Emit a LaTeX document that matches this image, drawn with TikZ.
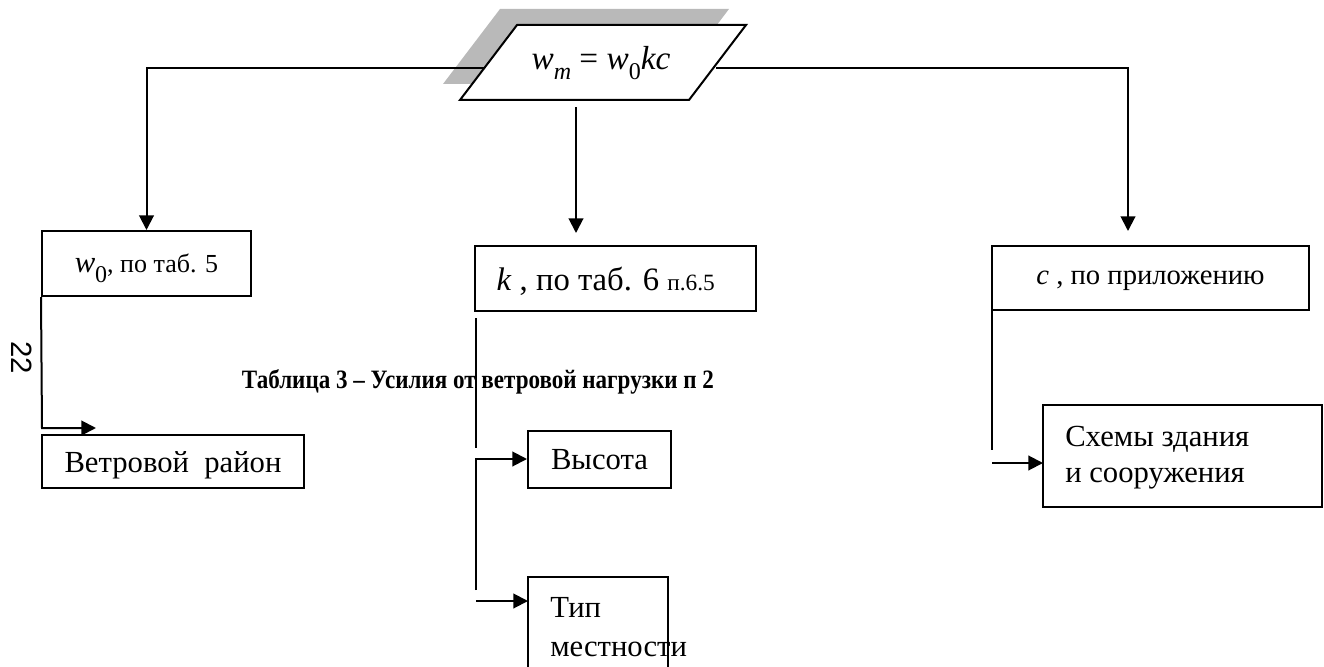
\documentclass[tikz,border=0pt]{standalone}
\usepackage{fontspec}
\setmainfont{Liberation Serif}
\newfontfamily\pagefont{Liberation Sans}
\usetikzlibrary{arrows.meta}
\tikzset{
  thick line/.style={line width=1.5pt},
  thin line/.style={line width=0.9pt},
  arr/.style={thick line,-{Triangle[length=11pt,width=11pt]}},
  boxnode/.style={draw,line width=1.5pt,inner sep=0pt,align=center,text depth=0pt,font=\fontsize{23}{27}\selectfont},
  boxleft/.style={inner sep=0pt,align=left,anchor=north west},
}
\begin{document}
\begin{tikzpicture}[x=0.75pt,y=-0.75pt]
\useasboundingbox (0,0) rectangle (1324,667);
% shadow and parallelogram
\fill[gray!55] (500,9) -- (729,9) -- (672,84) -- (443,84) -- cycle;
\draw[thick line,fill=white] (517,25) -- (746,25) -- (689,100) -- (460,100) -- cycle;
\node (eq) at (601,63) {\fontsize{25}{30}\selectfont\textit{w}\raisebox{-0.3em}{\fontsize{18}{20}\selectfont\textit{m}} = \textit{w}\raisebox{-0.3em}{\fontsize{18}{20}\selectfont 0}\textit{kc}};
\coordinate (pl) at (485,68);
\coordinate (pr) at (716,68);
\coordinate (pb) at (576,107);

% boxes
\node[boxnode,minimum width=209*0.75pt,minimum height=65*0.75pt] (w0) at (146.5,263.5)
  {\textit{w}\raisebox{-0.3em}{\fontsize{18}{20}\selectfont 0}\fontsize{19.5}{22}\selectfont, по таб. 5};
\node[boxnode,minimum width=281*0.75pt,minimum height=65*0.75pt,font=\fontsize{24.5}{28}\selectfont] (k) at (615.5,278.5)
  {\textit{k} , по таб. 6 {\fontsize{17.5}{20}\selectfont п.6.5}\hspace{0.6em}};
\node[boxnode,minimum width=317*0.75pt,minimum height=64*0.75pt,font=\fontsize{21.5}{26}\selectfont] (c) at (1150.5,278)
  {\textit{c} , по приложению};
\node[boxnode,minimum width=262*0.75pt,minimum height=53*0.75pt] (veter) at (173,461.5)
  {Ветровой\ \ район};
\node[boxnode,minimum width=143*0.75pt,minimum height=57*0.75pt] (vys) at (599.5,459)
  {Высота};
% open box (bottom cut by page edge)
\draw[thick line] (528,667) -- (528,577) -- (668,577) -- (668,667);
\node[boxleft,font=\fontsize{23}{29}\selectfont] (tip) at (550,597) {Тип\\местности};
\coordinate (tipw) at (528,601);
\draw[thick line] (1043,405) rectangle (1322,507);
\node[boxleft,font=\fontsize{23}{27}\selectfont] (shemy) at (1065,426) {Схемы здания\\и сооружения};
\coordinate (shw) at (1043,463);

% top connectors
\coordinate (ka) at (576,233);
\coordinate (ca) at (1128,231);
\draw[arr] (pl) -| (w0.north);
\draw[arr] (pb) -- (ka);
\draw[arr] (pr) -| (ca);

% lower connectors
\coordinate (vt) at (96,428);
\draw[arr] (w0.south west) -- (42,428) -- (vt);
\coordinate (k1) at (476,318);
\coordinate (k2) at (476,448);
\draw[thin line] (k1) -- (k2);
\draw[arr] (476,590) -- (476,459) -- (vys.west);
\coordinate (k3) at (476,601);
\draw[arr] (k3) -- (tipw);
\coordinate (c1) at (992,310);
\coordinate (c2) at (992,450);
\draw[thin line] (c1) -- (c2);
\coordinate (c3) at (992,463);
\draw[arr] (c3) -- (shw);

% title and page number
\node[yscale=1.15] (title) at (478,382) {\fontsize{17.3}{20}\selectfont\bfseries Таблица 3 – Усилия от ветровой нагрузки п 2};
\node[rotate=-90] (page) at (22,358) {\pagefont\fontsize{22}{26}\selectfont 22};
\end{tikzpicture}
\end{document}
